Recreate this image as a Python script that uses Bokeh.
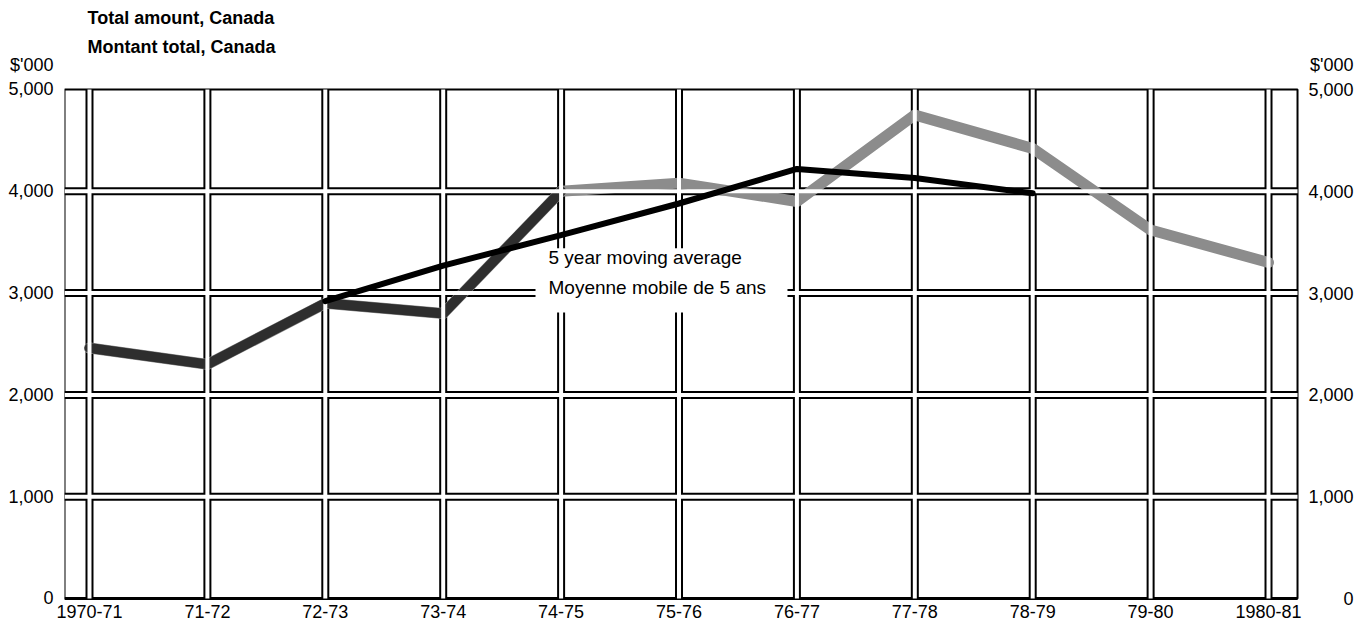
from bokeh.plotting import figure
from bokeh.models import Range1d, FixedTicker, Label, BoxAnnotation
from bokeh.embed import file_html
from bokeh.resources import INLINE

# ---- data ----
years = ["1970-71", "71-72", "72-73", "73-74", "74-75", "75-76",
         "76-77", "77-78", "78-79", "79-80", "1980-81"]
amount = [2460, 2300, 2900, 2800, 4000, 4080, 3900, 4750, 4420, 3620, 3300]
ma_years = ["72-73", "73-74", "74-75", "75-76", "76-77", "77-78", "78-79"]
moving_avg = [2920, 3270, 3570, 3880, 4220, 4130, 3980]
y_ticks = [0, 1000, 2000, 3000, 4000, 5000]
y_tick_labels = ["0", "1,000", "2,000", "3,000", "4,000", "5,000"]
title_lines = ["Total amount, Canada", "Montant total, Canada"]
unit_label = "$'000"
ma_label = ["5 year moving average", "Moyenne mobile de 5 ans"]

# ---- layout constants ----
FONT = "Liberation Sans"
BOX_LEFT, BOX_RIGHT = -0.212, 10.246     # chart box edges (x units)
UNIT_Y = 5236                              # "$'000" row (above the box)
TITLE_Y = [5707, 5422]
RIGHT_LABEL_X = 10.721

xi = list(range(len(years)))
ma_x = [years.index(y) for y in ma_years]

x_range = Range1d(BOX_LEFT, 10.865)
y_range = Range1d(-78.6, 5874)

p = figure(width=1370, height=624, x_range=x_range, y_range=y_range,
           output_backend="svg", toolbar_location=None,
           min_border_left=64, min_border_right=0,
           min_border_top=0, min_border_bottom=18)
p.background_fill_color = "white"
p.border_fill_color = "white"
p.outline_line_color = None
p.grid.visible = False

# axes
p.xaxis.ticker = FixedTicker(ticks=xi)
p.xaxis.major_label_overrides = {i: y for i, y in zip(xi, years)}
p.xaxis.major_tick_line_color = None
p.xaxis.minor_tick_line_color = None
p.xaxis.axis_line_color = None
p.xaxis.major_label_standoff = -8
p.xaxis.major_label_text_font = FONT
p.xaxis.major_label_text_font_size = "18px"
p.xaxis.major_label_text_color = "black"

p.yaxis.ticker = FixedTicker(ticks=y_ticks + [UNIT_Y])
overrides = {v: t for v, t in zip(y_ticks, y_tick_labels)}
overrides[UNIT_Y] = unit_label
p.yaxis.major_label_overrides = overrides
p.yaxis.major_tick_line_color = None
p.yaxis.minor_tick_line_color = None
p.yaxis.axis_line_color = None
p.yaxis.major_label_standoff = 5
p.yaxis.major_label_text_font = FONT
p.yaxis.major_label_text_font_size = "18px"
p.yaxis.major_label_text_color = "black"

n = len(xi)
inner = y_ticks[1:-1]
m = len(inner)
y0, y1 = y_ticks[0], y_ticks[-1]

# chart box outline and thick base line
p.quad(left=[BOX_LEFT], right=[BOX_RIGHT], bottom=[y0], top=[y1],
       fill_color=None, line_color="black", line_width=2)
p.segment(x0=[BOX_LEFT], x1=[BOX_RIGHT], y0=[y0], y1=[y0], line_color="black", line_width=3)

# grid: thick black lines
p.segment(x0=xi, x1=xi, y0=[y0] * n, y1=[y1] * n, line_color="black", line_width=8)
p.segment(x0=[BOX_LEFT] * m, x1=[BOX_RIGHT] * m, y0=inner, y1=inner,
          line_color="black", line_width=8)

# series (gray, darker at the start)
p.line(xi, amount, line_color="#8c8c8c", line_width=11, line_join="round", line_cap="round")
p.line(xi[:5], amount[:5], line_color="#2e2e2e", line_width=10, line_join="round", line_cap="round")

# white gaps of the double-line grid
p.segment(x0=xi, x1=xi, y0=[y0] * n, y1=[y1] * n, line_color="white", line_width=4)
p.segment(x0=[BOX_LEFT] * m, x1=[BOX_RIGHT] * m, y0=inner, y1=inner,
          line_color="white", line_width=4)

# moving average
p.line(ma_x, moving_avg, line_color="black", line_width=6, line_join="round", line_cap="round")

# white box behind label
p.add_layout(BoxAnnotation(left=3.783, right=5.92, bottom=2809, top=3440,
                           fill_color="white", fill_alpha=1.0, line_color=None))
for txt, yy in zip(ma_label, [3350, 3055]):
    p.add_layout(Label(x=3.893, y=yy, text=txt, text_font=FONT, text_font_size="19px",
                       text_align="left", text_baseline="middle", text_color="black"))

# titles
for txt, yy in zip(title_lines, TITLE_Y):
    p.add_layout(Label(x=-0.017, y=yy, text=txt, text_font=FONT, text_font_size="18px",
                       text_font_style="bold", text_align="left", text_baseline="middle",
                       text_color="black"))

# right-hand scale
p.add_layout(Label(x=RIGHT_LABEL_X, y=UNIT_Y, text=unit_label, text_font=FONT,
                   text_font_size="18px", text_align="right", text_baseline="middle",
                   text_color="black"))
for v, t in zip(y_ticks, y_tick_labels):
    p.add_layout(Label(x=RIGHT_LABEL_X, y=v, text=t, text_font=FONT, text_font_size="18px",
                       text_align="right", text_baseline="middle", text_color="black"))

open("out.html", "w").write(file_html(p, INLINE))
